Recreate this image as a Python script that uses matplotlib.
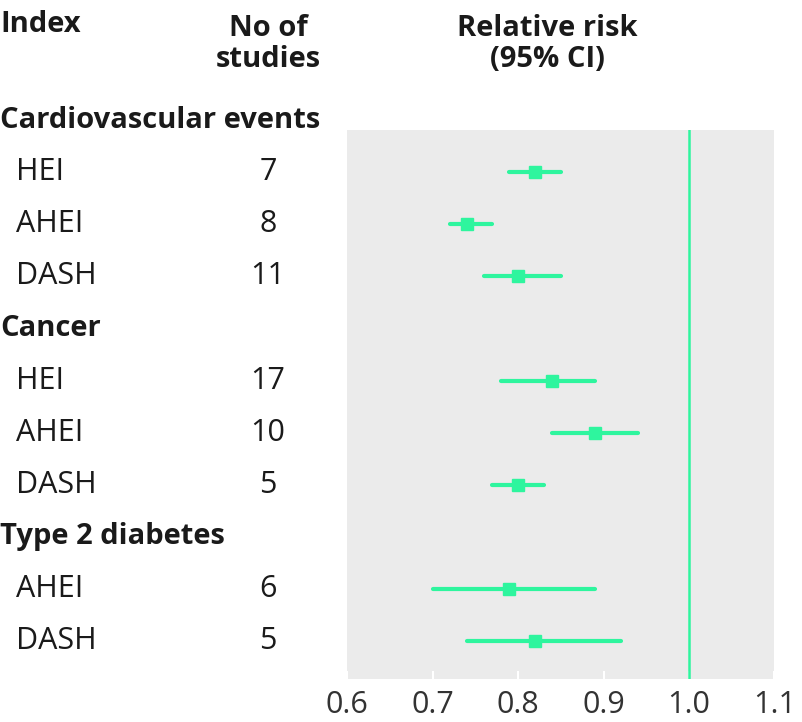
import matplotlib
matplotlib.use("Agg")
import matplotlib.pyplot as plt
from matplotlib.transforms import blended_transform_factory

# rows of the forest plot
groups = ["Cardiovascular events", "Cancer", "Type 2 diabetes"]
indices = [["HEI", "AHEI", "DASH"], ["HEI", "AHEI", "DASH"], ["AHEI", "DASH"]]
n_studies = [[7, 8, 11], [17, 10, 5], [6, 5]]
rr = [[0.82, 0.74, 0.80], [0.84, 0.89, 0.80], [0.79, 0.82]]
lo = [[0.79, 0.72, 0.76], [0.78, 0.84, 0.77], [0.70, 0.74]]
hi = [[0.85, 0.77, 0.85], [0.89, 0.94, 0.83], [0.89, 0.92]]
xticks = [0.6, 0.7, 0.8, 0.9, 1.0, 1.1]

green = "#2ef59e"
plt.rcParams['font.family'] = ['Open Sans', 'DejaVu Sans']

fig = plt.figure(figsize=(8.02, 7.22), dpi=100)
ax = fig.add_axes([0.4327, 0.0596, 0.533, 0.7604])
ax.set_facecolor("#ebebeb")
for s in ax.spines.values():
    s.set_visible(False)

# x in figure fraction, y in data rows
tr = blended_transform_factory(fig.transFigure, ax.transData)

fs = 22   # regular text
fsb = 21  # bold headers
row = 0
for g in range(len(groups)):
    ax.text(0.0, row, groups[g], transform=tr, fontsize=fsb, fontweight="bold",
            va="center", ha="left", clip_on=False, color="#1a1a1a")
    row += 1
    for k in range(len(indices[g])):
        ax.text(16 / 802, row, indices[g][k], transform=tr, fontsize=fs,
                va="center", ha="left", clip_on=False, color="#1a1a1a")
        ax.text(268 / 802, row, str(n_studies[g][k]), transform=tr, fontsize=fs,
                va="center", ha="center", clip_on=False, color="#1a1a1a")
        ax.plot([lo[g][k], hi[g][k]], [row, row], color=green, lw=3,
                solid_capstyle="round", zorder=3)
        ax.plot(rr[g][k], row, marker="s", ms=9, color=green, zorder=4)
        row += 1

ax.axvline(1.0, color=green, lw=1.8, zorder=2)
ax.set_xlim(0.6, 1.1)
ax.set_ylim(10.73, 0.19)
ax.set_yticks([])
ax.set_xticks(xticks)
ax.set_xticklabels(["%.1f" % v for v in xticks])
ax.tick_params(axis="x", direction="in", length=6, width=1.5, color="white",
               labelsize=22, labelcolor="#333333", pad=8)

# column headers
fig.text(0.0, 1 - 24 / 722, "Index", fontsize=fsb, fontweight="bold",
         va="center", ha="left", color="#1a1a1a")
fig.text(268 / 802, 1 - 44 / 722, "No of\nstudies", fontsize=fsb, fontweight="bold",
         va="center", ha="center", linespacing=1.12, color="#1a1a1a")
fig.text(547 / 802, 1 - 44 / 722, "Relative risk\n(95% CI)", fontsize=fsb, fontweight="bold",
         va="center", ha="center", linespacing=1.12, color="#1a1a1a")

fig.savefig("out.png", dpi=100)
